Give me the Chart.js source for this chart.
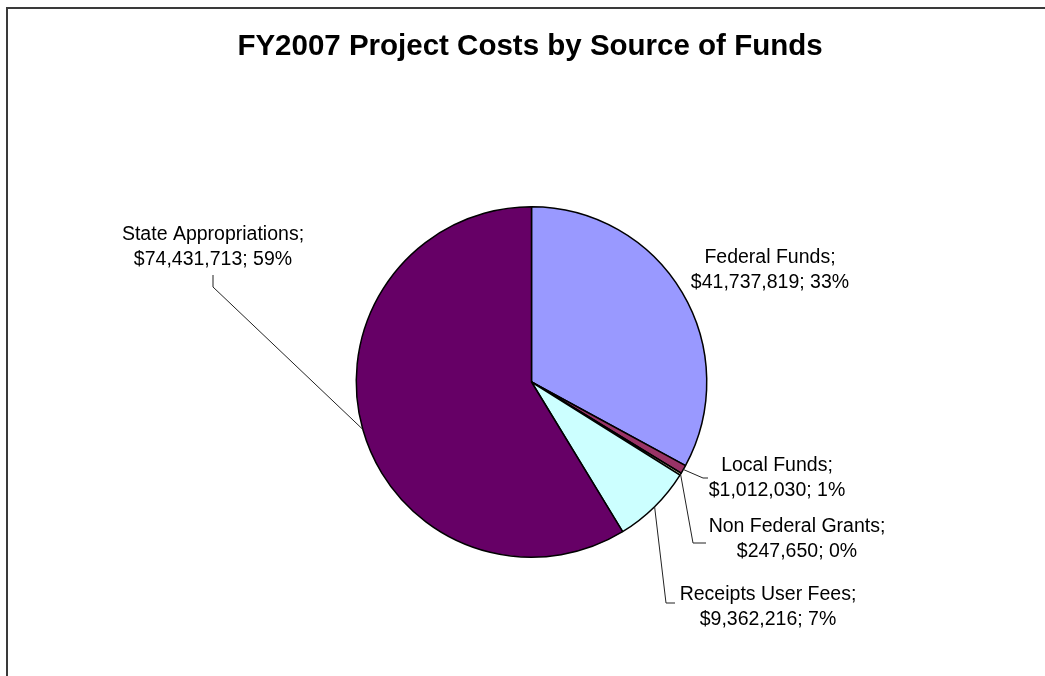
<!DOCTYPE html>
<html lang="en">
<head>
    <meta charset="UTF-8">
    <title>FY2007 Project Costs by Source of Funds</title>
    <style>
        body { margin: 0; background: #fff; }
    </style>
</head>
<body>

<canvas id="costChart" width="1045" height="676"></canvas>

<script src="https://cdn.jsdelivr.net/npm/chart.js"></script>
<script>
    // data
    const categories = ['Federal Funds', 'Local Funds', 'Non Federal Grants', 'Receipts User Fees', 'State Appropriations'];
    const amounts = [41737819, 1012030, 247650, 9362216, 74431713];
    const sliceColors = ['#9999FF', '#993366', '#FFFFCC', '#CCFFFF', '#660066'];
    const chartTitle = 'FY2007 Project Costs by Source of Funds';

    // where each label block sits and the bend points of its leader line
    const labelLayout = [
        { x: 770, y: 270, leader: [] },
        { x: 777, y: 478, leader: [[703, 478], [708, 478]] },
        { x: 797, y: 539, leader: [[693, 543], [706, 543]] },
        { x: 768, y: 607, leader: [[666, 603], [675, 603]] },
        { x: 213, y: 247, leader: [[213, 287], [213, 275]] }
    ];

    const total = amounts.reduce((a, b) => a + b, 0);

    const labelPlugin = {
        id: 'pieLabels',
        afterDraw(chart) {
            const ctx = chart.ctx;
            ctx.save();

            // frame
            ctx.fillStyle = '#3a3a3a';
            ctx.fillRect(6, 7, 2, 669);
            ctx.fillRect(6, 7, 1039, 2);

            // title
            ctx.fillStyle = '#000';
            ctx.font = 'bold 29.5px "Liberation Sans", Arial, sans-serif';
            ctx.textAlign = 'center';
            ctx.textBaseline = 'middle';
            ctx.fillText(chartTitle, 530, 47);

            const meta = chart.getDatasetMeta(0);
            ctx.font = '19.5px "Liberation Sans", Arial, sans-serif';
            meta.data.forEach((arc, i) => {
                const p = arc.getProps(['x', 'y', 'startAngle', 'endAngle', 'outerRadius'], true);
                const mid = (p.startAngle + p.endAngle) / 2;
                const sx = p.x + Math.cos(mid) * p.outerRadius;
                const sy = p.y + Math.sin(mid) * p.outerRadius;
                const lay = labelLayout[i];

                if (lay.leader.length) {
                    ctx.strokeStyle = '#222';
                    ctx.lineWidth = 1;
                    ctx.beginPath();
                    ctx.moveTo(sx, sy);
                    lay.leader.forEach(pt => ctx.lineTo(pt[0], pt[1]));
                    ctx.stroke();
                }

                const pct = Math.round(amounts[i] / total * 100);
                const line1 = categories[i] + ';';
                const line2 = '$' + amounts[i].toLocaleString('en-US') + '; ' + pct + '%';
                ctx.fillStyle = '#000';
                ctx.fillText(line1, lay.x, lay.y - 12.5);
                ctx.fillText(line2, lay.x, lay.y + 12.5);
            });
            ctx.restore();
        }
    };

    const ctx = document.getElementById('costChart').getContext('2d');
    new Chart(ctx, {
        type: 'pie',
        data: {
            labels: categories,
            datasets: [{
                data: amounts,
                backgroundColor: sliceColors,
                borderColor: '#000',
                borderWidth: 1.5
            }]
        },
        options: {
            responsive: false,
            animation: false,
            layout: {
                padding: { top: 206, bottom: 118, left: 200, right: 182 }
            },
            plugins: {
                legend: { display: false },
                tooltip: { enabled: false },
                title: { display: false }
            }
        },
        plugins: [labelPlugin]
    });
</script>

</body>
</html>
